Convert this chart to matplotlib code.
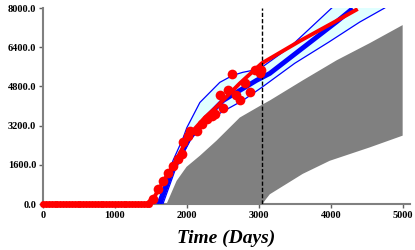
import matplotlib
matplotlib.use("Agg")
import matplotlib.pyplot as plt
import numpy as np

# ---- data ----
obs_flat_days = [0, 40, 80, 120, 160, 200, 240, 280, 320, 360, 400, 440, 480, 520,
                 560, 600, 640, 680, 720, 760, 800, 840, 880, 920, 960, 1000, 1040,
                 1080, 1120, 1160, 1200, 1240, 1280, 1320, 1360, 1400, 1440, 1480]
obs_flat_vals = [0] * len(obs_flat_days)
obs_days = [1532, 1601, 1671, 1740, 1810, 1879, 1926, 1949, 2018, 2042, 2135, 2204,
            2274, 2343, 2389, 2458, 2500, 2569, 2621, 2690, 2736, 2806, 2875, 2944,
            3014, 3037]
obs_vals = [193, 603, 944, 1284, 1559, 1834, 2039, 2515, 2790, 2995, 2995, 3282,
            3488, 3611, 3693, 4431, 3898, 4636, 5322, 4431, 4226, 4924, 4554, 5457,
            5334, 5457]

red_days = [0, 1440, 1556, 1694, 1833, 1972, 2111, 2250, 2389, 2528, 2736, 3042, 3569, 4083, 4375]
red_vals = [0, 0, 328, 1026, 1682, 2462, 3077, 3529, 3898, 4308, 4924, 5744, 6650, 7480, 7960]

blue_days = [1625, 1810, 2042, 2274, 2504, 2736, 2968, 3153, 3569, 4083, 4306]
blue_vals = [0, 1490, 2720, 3541, 4226, 4636, 5046, 5330, 6275, 7440, 7980]

mid_days = [1600, 1800, 2042, 2300, 2504]
mid_vals = [0, 1600, 2850, 3650, 4226]

up_days = [1583, 1667, 1806, 1944, 2000, 2181, 2458, 2639, 2778, 2917, 3042, 3431, 4014]
up_vals = [0, 615, 1764, 2667, 3118, 4144, 4965, 5252, 5375, 5457, 5580, 6401, 8000]

lo_days = [1667, 1833, 2042, 2250, 2500, 2778, 3042, 3500, 3972, 4403, 4750]
lo_vals = [0, 1354, 2585, 3323, 3775, 4226, 4760, 5744, 6606, 7426, 8000]

gray_up_days = [1718, 1857, 1996, 2181, 2412, 2736, 3014, 3153, 3611, 4083, 4542, 5000]
gray_up_vals = [0, 944, 1518, 1970, 2585, 3529, 4000, 4226, 5046, 5867, 6565, 7303]
gray_lo_days = [3050, 3100, 3153, 3611, 3986, 4542, 5000]
gray_lo_vals = [0, 200, 397, 1230, 1764, 2310, 2790]

now_day = 3045

x_ticks = [0, 1000, 2000, 3000, 4000, 5000]
y_ticks = [0, 1600, 3200, 4800, 6400, 8000]

# ---- figure ----
fig = plt.figure(figsize=(4.15, 2.5), dpi=100)
ax = fig.add_axes([0.1036, 0.184, 0.884, 0.784])

gx = np.concatenate([gray_up_days, gray_lo_days[::-1], [gray_up_days[0]]])
gy = np.concatenate([gray_up_vals, gray_lo_vals[::-1], [0]])
ax.fill(gx, gy, color="#808080", lw=0, zorder=1)

cx = np.concatenate([up_days, lo_days[::-1]])
cy = np.concatenate([up_vals, lo_vals[::-1]])
ax.fill(cx, cy, color="#e0ffff", lw=0, zorder=2)

ax.plot(up_days, up_vals, color="#0000ff", lw=0.9, zorder=3)
ax.plot(lo_days, lo_vals, color="#0000ff", lw=0.9, zorder=3)
ax.plot(mid_days, mid_vals, color="#0000ff", lw=0.9, zorder=3)
ax.plot(blue_days, blue_vals, color="#0000ff", lw=3.5, zorder=4, solid_capstyle="butt")
ax.plot(red_days, red_vals, color="#ff0000", lw=2.8, zorder=5, solid_capstyle="butt")

ax.axvline(now_day, color="black", lw=1.0, ls=(0, (3, 1.5)), zorder=6)

ax.plot(obs_flat_days, obs_flat_vals, "o", color="#ff0000", ms=5, mec="none", zorder=7, clip_on=False)
ax.plot(obs_days, obs_vals, "o", color="#ff0000", ms=7, mec="none", zorder=7, clip_on=False)

ax.set_xlim(0, 5100)
ax.set_ylim(0, 8000)
ax.set_xticks(x_ticks)
ax.set_yticks(y_ticks)
ax.set_yticklabels([f"{v:.1f}" for v in y_ticks])
ax.set_xticklabels([str(v) for v in x_ticks])

for s in ["top", "right"]:
    ax.spines[s].set_visible(False)
for s in ["left", "bottom"]:
    ax.spines[s].set_color("#808080")
    ax.spines[s].set_linewidth(1.5)
ax.tick_params(axis="both", direction="out", length=3, width=1, color="#606060",
               pad=2, labelsize=7.5)
for lab in ax.get_xticklabels() + ax.get_yticklabels():
    lab.set_fontfamily("Liberation Serif")
    lab.set_fontweight("bold")

ax.set_xlabel("Time (Days)", fontfamily="Liberation Serif", fontweight="bold",
              fontstyle="italic", fontsize=14, labelpad=7)

fig.savefig("out.png", dpi=100)
